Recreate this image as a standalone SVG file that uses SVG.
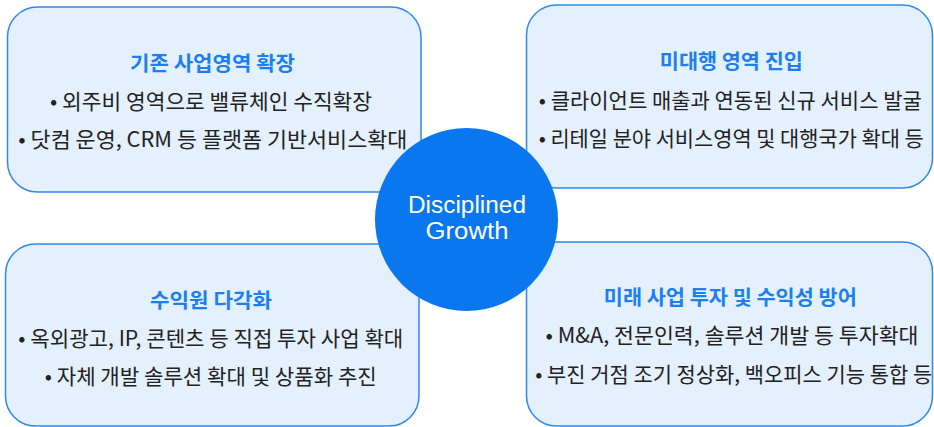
<svg xmlns="http://www.w3.org/2000/svg" width="934" height="427" viewBox="0 0 934 427">
<style>
.box{fill:#e4f0fc;stroke:#2f88f0;stroke-width:1.5}
.t{font-family:"Noto Sans CJK KR","Noto Sans",sans-serif;text-anchor:middle}
.title{font-size:20.5px;font-weight:700;fill:#1c7ff0}
.body{font-size:21px;fill:#222}
.c{font-family:"Liberation Sans","Noto Sans",sans-serif;font-size:23px;fill:#fff;text-anchor:middle}
</style>
<rect width="934" height="427" fill="#fff"/>
<g id="node-tl">
<rect class="box" x="7.5" y="7" width="413.5" height="185" rx="30"/>
<text class="t title" x="212.5" y="71" textLength="165" lengthAdjust="spacingAndGlyphs">기존 사업영역 확장</text>
<text class="t body" x="211" y="108.5" textLength="322" lengthAdjust="spacingAndGlyphs">• 외주비 영역으로 밸류체인 수직확장</text>
<text class="t body" x="212.8" y="146.5" textLength="389" lengthAdjust="spacingAndGlyphs">• 닷컴 운영, CRM 등 플랫폼 기반서비스확대</text>
</g>
<g id="node-tr">
<rect class="box" x="526.5" y="5" width="406" height="183" rx="30"/>
<text class="t title" x="731.3" y="69" textLength="143" lengthAdjust="spacingAndGlyphs">미대행 영역 진입</text>
<text class="t body" x="730.3" y="108" textLength="383" lengthAdjust="spacingAndGlyphs">• 클라이언트 매출과 연동된 신규 서비스 발굴</text>
<text class="t body" x="731.2" y="146" textLength="385" lengthAdjust="spacingAndGlyphs">• 리테일 분야 서비스영역 및 대행국가 확대 등</text>
</g>
<g id="node-bl">
<rect class="box" x="5.5" y="244" width="413.5" height="182" rx="30"/>
<text class="t title" x="211" y="308" textLength="122" lengthAdjust="spacingAndGlyphs">수익원 다각화</text>
<text class="t body" x="210.8" y="345.5" textLength="385" lengthAdjust="spacingAndGlyphs">• 옥외광고, IP, 콘텐츠 등 직접 투자 사업 확대</text>
<text class="t body" x="210.8" y="384" textLength="332" lengthAdjust="spacingAndGlyphs">• 자체 개발 솔루션 확대 및 상품화 추진</text>
</g>
<g id="node-br">
<rect class="box" x="526.5" y="242" width="406" height="184" rx="30"/>
<text class="t title" x="730.3" y="305" textLength="253" lengthAdjust="spacingAndGlyphs">미래 사업 투자 및 수익성 방어</text>
<text class="t body" x="732" y="343" textLength="373" lengthAdjust="spacingAndGlyphs">• M&amp;A, 전문인력, 솔루션 개발 등 투자확대</text>
<text class="t body" x="733.7" y="382" textLength="397" lengthAdjust="spacingAndGlyphs">• 부진 거점 조기 정상화, 백오피스 기능 통합 등</text>
</g>
<g id="connectors"></g>
<g id="node-center">
<circle cx="466.5" cy="219.5" r="91.5" fill="#0b77ef"/>
<text class="c" x="467" y="212.5" textLength="118" lengthAdjust="spacingAndGlyphs">Disciplined</text>
<text class="c" x="467" y="238.5" textLength="83" lengthAdjust="spacingAndGlyphs">Growth</text>
</g>
</svg>
